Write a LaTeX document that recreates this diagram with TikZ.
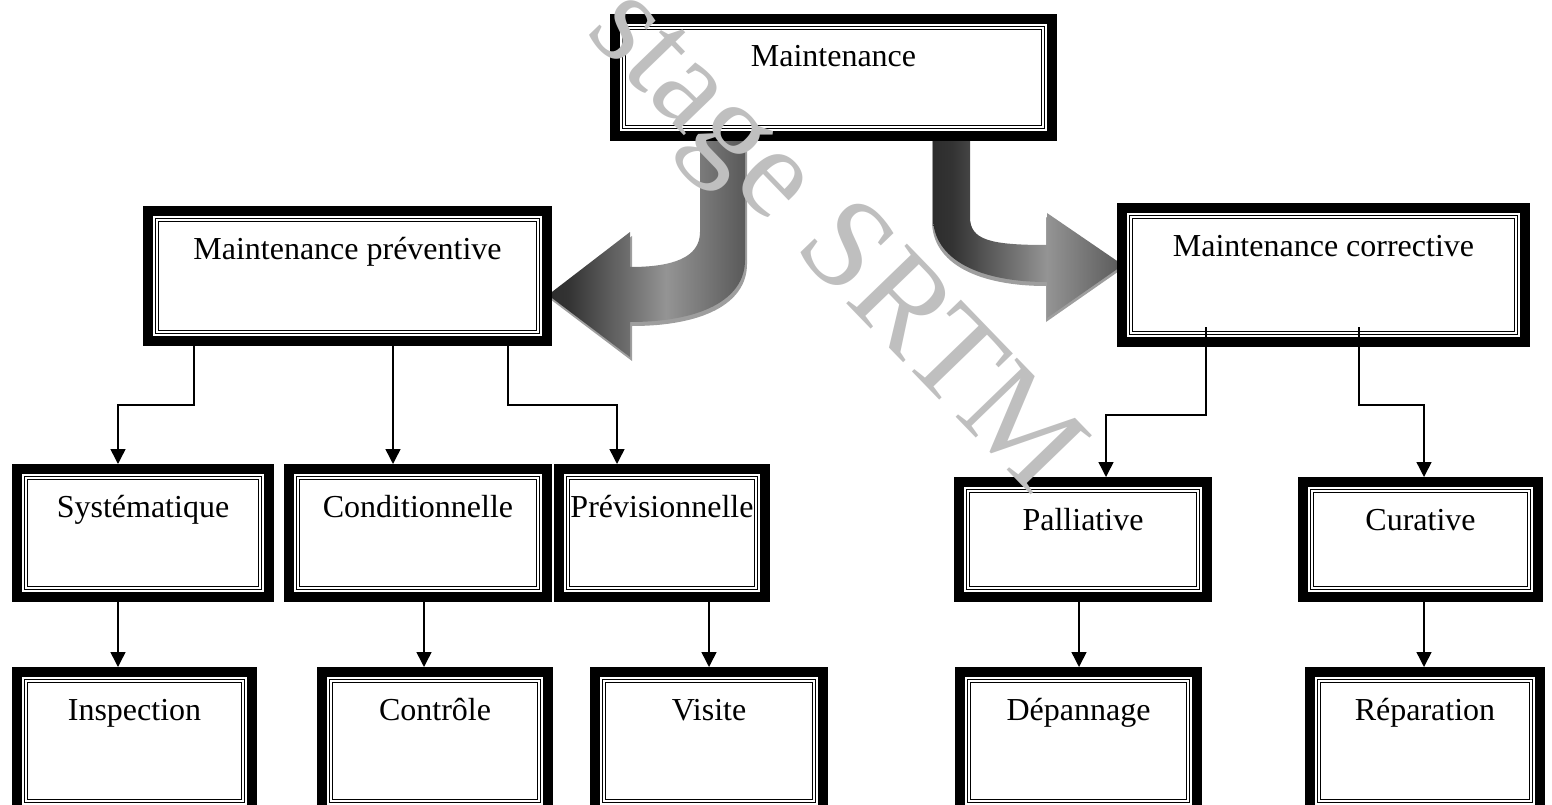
\documentclass[tikz,border=0pt]{standalone}
\usepackage{fontspec}
\setmainfont{Liberation Serif}
\usetikzlibrary{arrows.meta,backgrounds}
\pgfdeclarehorizontalshading{metal}{100bp}{color(0bp)=(black!95); color(30bp)=(black!80); color(55bp)=(black!42); color(75bp)=(black!65); color(100bp)=(black!92)}

\begin{document}
\begin{tikzpicture}[x=1pt, y=-1pt, >={Triangle[width=15pt,length=15pt]},
    cadre/.style 2 args = {draw, fill=white, line width=10pt, outer sep=5pt, inner sep=0pt,
        minimum width=#1, text height=48pt, text depth=#2, font=\fontsize{32}{38}\selectfont,
        path picture={\draw[line width=1.2pt, double distance=1.8pt]
            ([shift={(9.1pt,9.1pt)}]path picture bounding box.south west) rectangle
            ([shift={(-9.1pt,-9.1pt)}]path picture bounding box.north east);}},
    fleche/.style = {line width=1.5pt, ->},
    bloc/.style = {shading=metal, shading angle=0, preaction={fill=black!38, transform canvas={xshift=#1, yshift=-4pt}}}]
    \useasboundingbox (0,0) rectangle (1552,805);
    \node[cadre={437pt}{69pt}] (maint) at (833.5,77.5) {Maintenance};
    \node[cadre={399pt}{82pt}] (prev) at (347.5,276) {Maintenance préventive};
    \node[cadre={403pt}{86pt}] (corr) at (1323.5,275) {Maintenance corrective};
    \node[cadre={252pt}{80pt}] (sys) at (143,533) {Systématique};
    \node[cadre={258pt}{80pt}] (cond) at (418,533) {Conditionnelle};
    \node[cadre={206pt}{80pt}] (previs) at (662,533) {Prévisionnelle};
    \node[cadre={248pt}{67pt}] (pall) at (1083,539.5) {Palliative};
    \node[cadre={235pt}{67pt}] (cur) at (1420.5,539.5) {Curative};
    \node[cadre={235pt}{90pt}] (insp) at (134.5,741) {Inspection};
    \node[cadre={226pt}{90pt}] (ctrl) at (435,741) {Contrôle};
    \node[cadre={228pt}{90pt}] (vis) at (709,741) {Visite};
    \node[cadre={237pt}{90pt}] (dep) at (1078.5,741) {Dépannage};
    \node[cadre={230pt}{90pt}] (rep) at (1425,741) {Réparation};
    \begin{scope}[on background layer]
    \shade[bloc=2pt] (700,135) -- (700,232) .. controls (700,258) and (672,267) .. (630,267) -- (630,232) -- (548,295)
        -- (630,357) -- (630,322) .. controls (700,322) and (745,300) .. (745,260) -- (745,135) -- cycle;
    \shade[bloc=-1pt] (933,135) -- (933,217) .. controls (933,260) and (980,282) .. (1047,282) -- (1047,318) -- (1123,265)
        -- (1047,213) -- (1047,245) .. controls (990,245) and (970,240) .. (970,217) -- (970,135) -- cycle;
    \end{scope}
    \draw[fleche] ([xshift=-153.5pt]prev.south) -- ++(0,59) -| ([xshift=-25pt]sys.north);
    \draw[fleche] ([xshift=45.5pt]prev.south) -- ([xshift=-25pt]cond.north);
    \draw[fleche] ([xshift=160.5pt]prev.south) -- ++(0,59) -| ([xshift=-45pt]previs.north);
    \draw[fleche] ([xshift=-117.5pt, yshift=20pt]corr.south) -- ++(0,88) -| ([xshift=23pt]pall.north);
    \draw[fleche] ([xshift=35.5pt, yshift=20pt]corr.south) -- ++(0,78) -| ([xshift=3.5pt]cur.north);
    \draw[fleche] ([xshift=-25pt]sys.south) -- ([xshift=-16.5pt]insp.north);
    \draw[fleche] ([xshift=6pt]cond.south) -- ([xshift=-11pt]ctrl.north);
    \draw[fleche] ([xshift=47pt]previs.south) -- (vis.north);
    \draw[fleche] ([xshift=-4pt]pall.south) -- ([xshift=0.5pt]dep.north);
    \draw[fleche] ([xshift=3.5pt]cur.south) -- ([xshift=-1pt]rep.north);
    \node[rotate=-46, text=black!25, font=\fontsize{130}{130}\selectfont] (filigrane) at (830,245) {stage SRTM};
\end{tikzpicture}
\end{document}
